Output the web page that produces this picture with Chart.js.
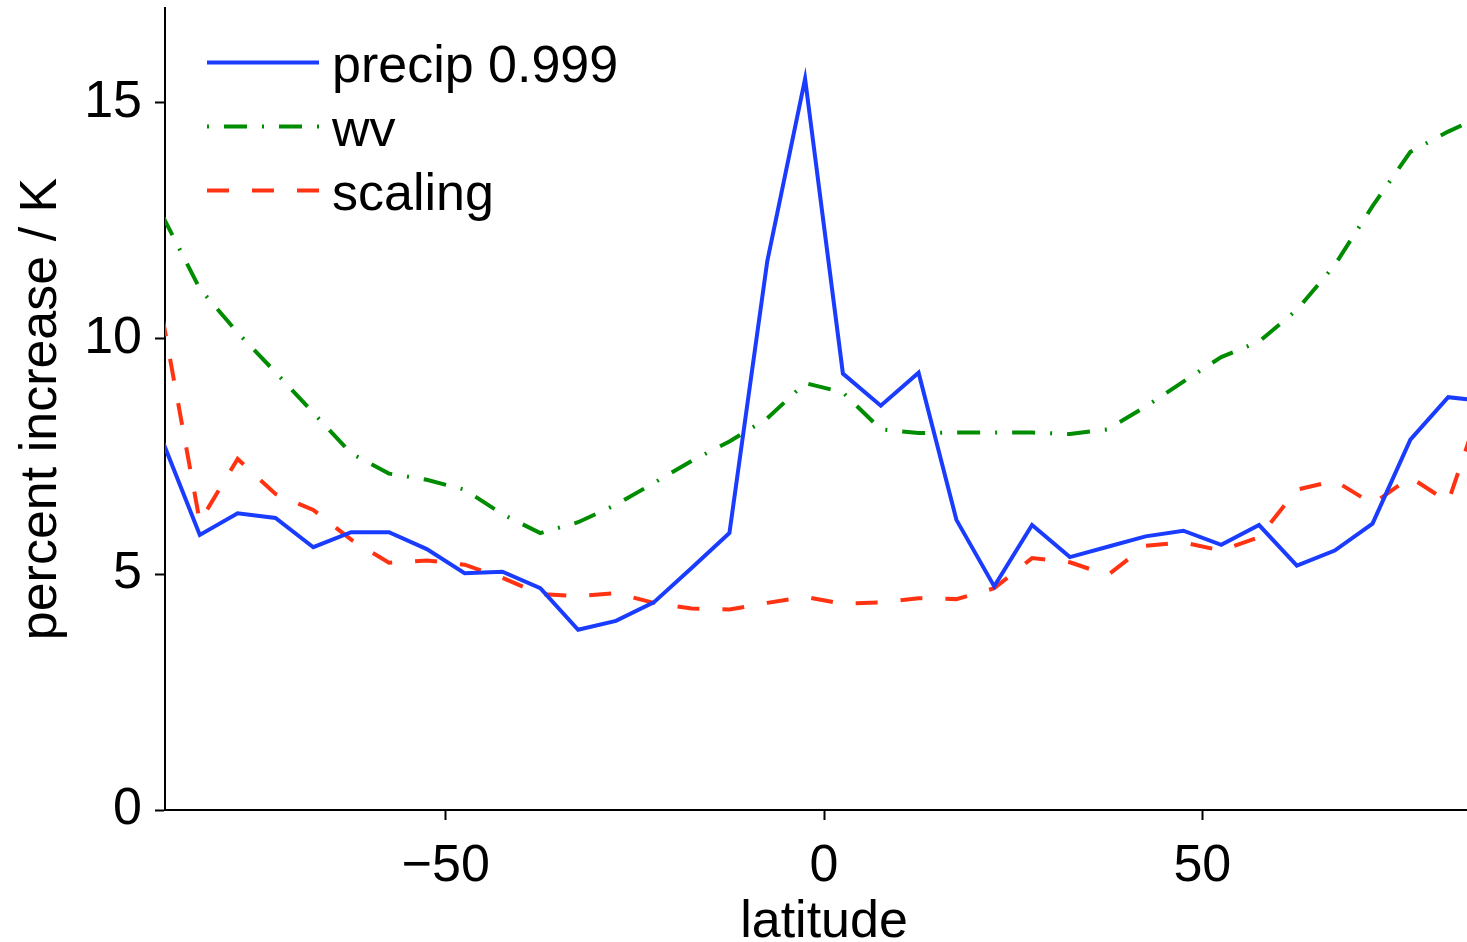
<!DOCTYPE html>
<html>
<head>
<meta charset="utf-8">
<title>percent increase / K vs latitude</title>
<script src="https://cdn.jsdelivr.net/npm/chart.js@4.4.1/dist/chart.umd.min.js"></script>
<style>
  html, body { margin: 0; padding: 0; background: #fff; overflow: hidden; }
  canvas { display: block; }
</style>
</head>
<body>
<!-- the axes run a little past the right edge of the window, as in the cropped original -->
<canvas id="chartContainer" width="1483" height="942"></canvas>
<script>
// values, one per 5 degree latitude band
const latitude = [-87.5, -82.5, -77.5, -72.5, -67.5, -62.5, -57.5, -52.5, -47.5, -42.5,
                  -37.5, -32.5, -27.5, -22.5, -17.5, -12.5, -7.5, -2.5, 2.5, 7.5,
                  12.5, 17.5, 22.5, 27.5, 32.5, 37.5, 42.5, 47.5, 52.5, 57.5,
                  62.5, 67.5, 72.5, 77.5, 82.5, 87.5];
const precip = [7.85, 5.83, 6.29, 6.19, 5.57, 5.89, 5.89, 5.53, 5.02, 5.05,
                4.70, 3.82, 4.01, 4.40, 5.13, 5.87, 11.63, 15.50, 9.25, 8.57,
                9.27, 6.15, 4.74, 6.04, 5.36, 5.58, 5.80, 5.92, 5.62, 6.04,
                5.18, 5.50, 6.07, 7.85, 8.75, 8.66];
const wv = [12.62, 11.05, 10.12, 9.28, 8.42, 7.56, 7.13, 7.00, 6.79, 6.27,
            5.87, 6.10, 6.47, 6.93, 7.40, 7.81, 8.30, 9.05, 8.85, 8.07,
            7.99, 8.00, 8.00, 8.00, 7.97, 8.07, 8.55, 9.08, 9.60, 9.93,
            10.60, 11.55, 12.80, 13.95, 14.38, 14.75];
const scaling = [10.50, 6.11, 7.44, 6.70, 6.36, 5.73, 5.24, 5.29, 5.20, 4.92,
                 4.58, 4.53, 4.60, 4.39, 4.27, 4.25, 4.39, 4.52, 4.37, 4.40,
                 4.49, 4.47, 4.70, 5.34, 5.25, 4.98, 5.60, 5.67, 5.50, 5.78,
                 6.79, 6.98, 6.49, 7.05, 6.53, 8.90];
const seriesLabels = ["precip 0.999", "wv", "scaling"];
const xTicks = [-50, 0, 50];
const yTicks = [0, 5, 10, 15];

const FONT = "'Liberation Sans', Arial, Helvetica, sans-serif";
Chart.defaults.font.family = FONT;
Chart.defaults.color = "#000";

function toPoints(values) {
    return latitude.map((lat, i) => ({ x: lat, y: values[i] }));
}

// matplotlib style legend: a short line sample and the label, top left inside the axes
const lineLegend = {
    id: "lineLegend",
    afterDraw(chart) {
        const { ctx, chartArea } = chart;
        ctx.save();
        chart.data.datasets.forEach((ds, i) => {
            const y = chartArea.top + 54.5 + i * 64;
            ctx.beginPath();
            ctx.strokeStyle = ds.borderColor;
            ctx.lineWidth = ds.borderWidth;
            ctx.lineCap = "butt";
            ctx.setLineDash(ds.borderDash || []);
            ctx.lineDashOffset = ds.legendDashOffset || 0;
            ctx.moveTo(chartArea.left + 42, y);
            ctx.lineTo(chartArea.left + 154, y);
            ctx.stroke();
            ctx.setLineDash([]);
            ctx.fillStyle = "#000";
            ctx.font = "52px " + FONT;
            ctx.textBaseline = "alphabetic";
            ctx.textAlign = "left";
            ctx.fillText(ds.label, chartArea.left + 167, y + 19.5);
        });
        ctx.restore();
    },
};

const minusSign = (v) => String(v).replace("-", "\u2212");

// fixed axis boxes, no extra room reserved for overhanging tick labels
function fitY(s) {
    s.width = 165;
    s.paddingTop = 0;
    s.paddingBottom = 0;
}
function fitX(s) {
    s.height = 132;
    s.paddingLeft = 0;
    s.paddingRight = 0;
}

const ctx = document.getElementById("chartContainer");
const chart = new Chart(ctx, {
    type: "line",
    data: {
        datasets: [
            {
                label: seriesLabels[0],
                data: toPoints(precip),
                borderColor: "#1a3cff",
                borderWidth: 4,
                pointRadius: 0,
                tension: 0,
                clip: 0,
            },
            {
                label: seriesLabels[1],
                data: toPoints(wv),
                borderColor: "#008c00",
                borderWidth: 4,
                borderDash: [23, 15, 2, 15],
                legendDashOffset: 38,
                pointRadius: 0,
                tension: 0,
                clip: 0,
            },
            {
                label: seriesLabels[2],
                data: toPoints(scaling),
                borderColor: "#ff3311",
                borderWidth: 4,
                borderDash: [22, 23],
                pointRadius: 0,
                tension: 0,
                clip: 0,
            },
        ],
    },
    options: {
        responsive: false,
        animation: false,
        devicePixelRatio: 1,
        layout: { padding: { top: 8, right: 0, bottom: 0, left: 0 } },
        plugins: {
            legend: { display: false },
            tooltip: { enabled: false },
        },
        scales: {
            x: {
                type: "linear",
                min: -87.1,
                max: 87.1,
                afterBuildTicks: (s) => { s.ticks = xTicks.map((v) => ({ value: v })); },
                afterFit: fitX,
                grid: { drawOnChartArea: false, drawTicks: true, tickLength: 10, tickWidth: 2, tickColor: "#000" },
                border: { display: true, color: "#000", width: 2 },
                ticks: {
                    font: { size: 52, lineHeight: 1.2 },
                    padding: 15,
                    maxRotation: 0,
                    callback: minusSign,
                },
                title: {
                    display: true,
                    text: "latitude",
                    font: { size: 52, lineHeight: 0.74 },
                    padding: 0,
                },
            },
            y: {
                type: "linear",
                min: 0,
                max: 17,
                afterBuildTicks: (s) => { s.ticks = yTicks.map((v) => ({ value: v })); },
                afterFit: fitY,
                grid: { drawOnChartArea: false, drawTicks: true, tickLength: 10, tickWidth: 2, tickColor: "#000" },
                border: { display: true, color: "#000", width: 2 },
                ticks: {
                    font: { size: 52, lineHeight: 1.2 },
                    padding: 13,
                },
                title: {
                    display: true,
                    text: "percent increase / K",
                    font: { size: 52, lineHeight: 1.2 },
                    padding: { top: 10, bottom: 0 },
                },
            },
        },
    },
    plugins: [lineLegend],
});
</script>
</body>
</html>
